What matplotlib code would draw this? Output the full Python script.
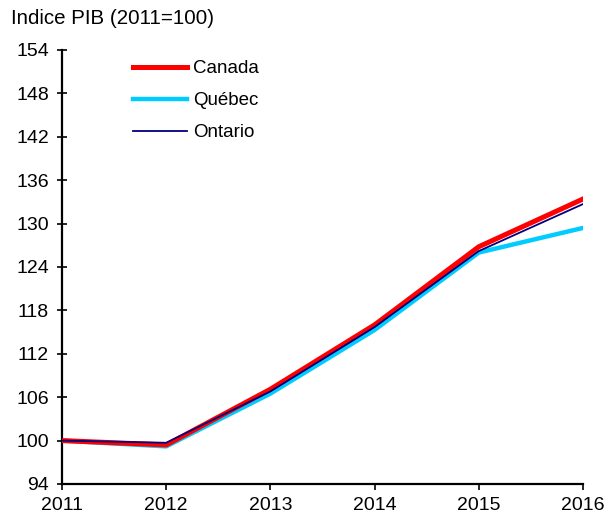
import matplotlib
matplotlib.use("Agg")
import matplotlib.pyplot as plt

plt.rcParams['font.family'] = ['Liberation Sans', 'DejaVu Sans']

years = [2011, 2012, 2013, 2014, 2015, 2016]
canada = [100.0, 99.4, 107.1, 116.0, 126.8, 133.4]
quebec = [100.0, 99.2, 106.5, 115.3, 126.0, 129.4]
ontario = [100.0, 99.7, 106.8, 115.7, 126.2, 132.7]
yticks = [94, 100, 106, 112, 118, 124, 130, 136, 142, 148, 154]

fig = plt.figure(figsize=(6.1, 5.16), dpi=100)
ax = fig.add_axes([62 / 610, 32 / 516, 521 / 610, 434 / 516])

ax.plot(years, quebec, color='#00ccff', lw=3.2, label='Québec', zorder=2)
ax.plot(years, canada, color='#ff0000', lw=3.6, label='Canada', zorder=3)
ax.plot(years, ontario, color='#000080', lw=1.3, label='Ontario', zorder=4)

ax.set_xlim(2011, 2016)
ax.set_ylim(94, 154)
ax.set_xticks(years)
ax.set_yticks(yticks)
ax.tick_params(axis='y', labelsize=14, direction='inout', length=7, width=1.2, pad=6)
ax.tick_params(axis='x', labelsize=14, direction='out', length=4, width=1.2, pad=5)
for s in ['top', 'right']:
    ax.spines[s].set_visible(False)
for s in ['left', 'bottom']:
    ax.spines[s].set_linewidth(1.6)

# legend order: Canada, Québec, Ontario
h, l = ax.get_legend_handles_labels()
order = [1, 0, 2]
ax.legend([h[i] for i in order], [l[i] for i in order], loc='upper left',
          bbox_to_anchor=(0.136, 0.977), frameon=False, fontsize=13.5,
          borderaxespad=0, borderpad=0,
          handlelength=2.9, handletextpad=0.3, labelspacing=0.8)

fig.text(11 / 610, 1 - 19 / 516, 'Indice PIB (2011=100)', fontsize=14.8, va='center')

fig.savefig('out.png', dpi=100)
